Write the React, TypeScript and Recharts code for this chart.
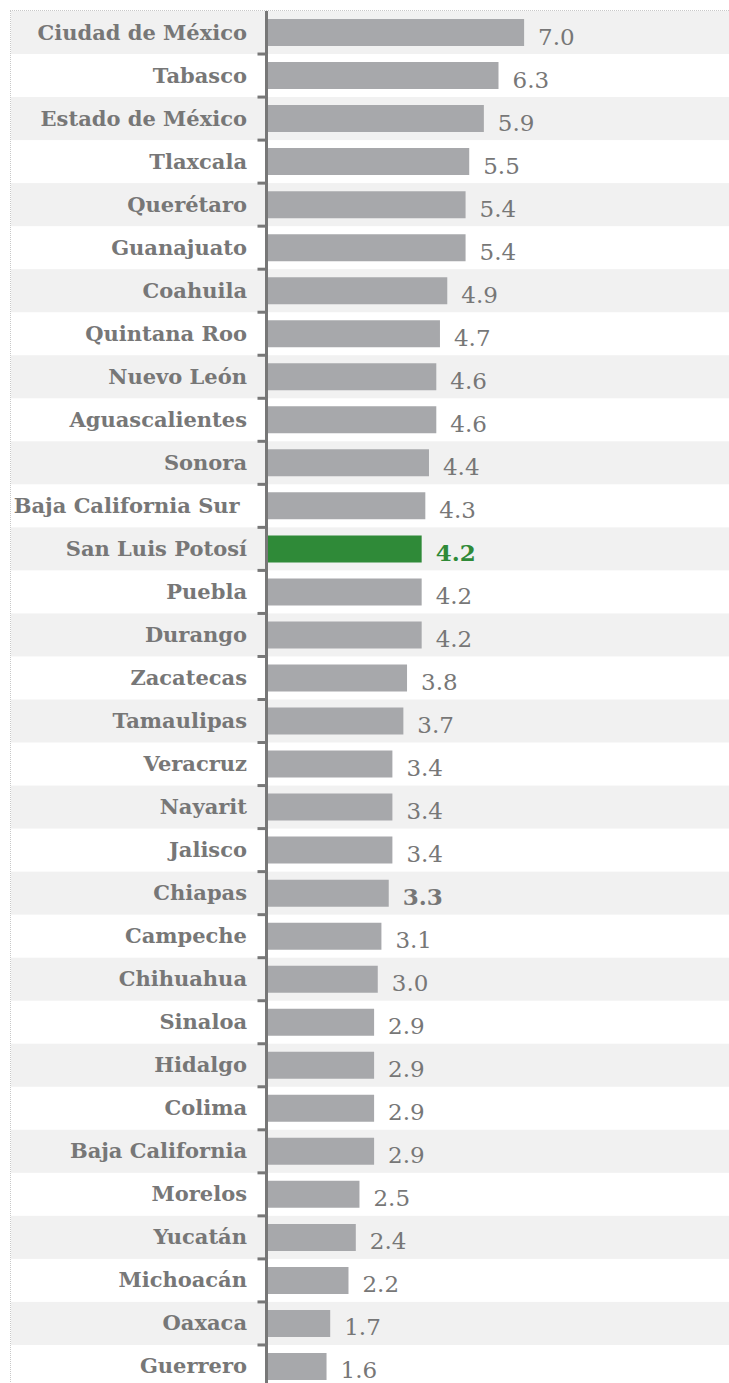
import { BarChart, Bar, XAxis, YAxis, Cell, LabelList } from "recharts";

const states = [
  "Ciudad de México", "Tabasco", "Estado de México", "Tlaxcala", "Querétaro", "Guanajuato",
  "Coahuila", "Quintana Roo", "Nuevo León", "Aguascalientes", "Sonora", "Baja California Sur ",
  "San Luis Potosí", "Puebla", "Durango", "Zacatecas", "Tamaulipas", "Veracruz", "Nayarit",
  "Jalisco", "Chiapas", "Campeche", "Chihuahua", "Sinaloa", "Hidalgo", "Colima",
  "Baja California", "Morelos", "Yucatán", "Michoacán", "Oaxaca", "Guerrero",
];
const values = [
  7.0, 6.3, 5.9, 5.5, 5.4, 5.4, 4.9, 4.7, 4.6, 4.6, 4.4, 4.3, 4.2, 4.2, 4.2, 3.8, 3.7, 3.4,
  3.4, 3.4, 3.3, 3.1, 3.0, 2.9, 2.9, 2.9, 2.9, 2.5, 2.4, 2.2, 1.7, 1.6,
];
const highlight = "San Luis Potosí";
const boldLabels = ["San Luis Potosí", "Chiapas"];

const data = states.map((name, i) => ({ name, value: values[i] }));

const W = 718;
const H = 1377;
const Y_W = 257;
const BAND = H / states.length;
const AXIS = "#777777";
const BAR = "#a7a8ab";
const GREEN = "#2f8a38";
const FONT = "'DejaVu Serif', serif";

// alternating row shading, full band height, reaching under the labels
function Band(props: any) {
  const idx = props.index ?? states.indexOf(props.payload?.name);
  if (idx % 2 !== 0) return null;
  const cy = props.y + props.height / 2;
  return <rect x={props.x - Y_W} y={cy - BAND / 2} width={props.width + Y_W} height={BAND} fill="#f1f1f1" />;
}

// label + bracket-style axis piece for each band
function StateTick(props: any) {
  const { x, y, payload, index } = props;
  const ax = x + 19 - 1.5;
  const top = y - BAND / 2;
  const t = index === 0 ? top - 3.5 : top;
  return (
    <g>
      <text x={x - 2} y={y + 7} textAnchor="end" fill={AXIS} fontFamily={FONT} fontWeight="bold" fontSize={21} style={{ whiteSpace: "pre" }}>
        {payload.value}
      </text>
      <line x1={ax} x2={ax} y1={t - 1.5} y2={top + BAND} stroke={AXIS} strokeWidth={3} />
      <line x1={ax - 9} x2={ax} y1={t} y2={t} stroke={AXIS} strokeWidth={3} />
    </g>
  );
}

function ValueLabel(props: any) {
  const { x, y, width, height, value, index } = props;
  const name = states[index];
  const bold = boldLabels.includes(name);
  return (
    <text
      x={x + width + 14}
      y={y + height / 2 + 12}
      fill={name === highlight ? GREEN : AXIS}
      fontFamily={FONT}
      fontSize={23}
      fontWeight={bold ? "bold" : "normal"}
    >
      {Number(value).toFixed(1)}
    </text>
  );
}

export default function App() {
  return (
    <div style={{ position: "absolute", left: 0, top: 0, width: 729, height: 1383, overflow: "hidden", background: "#fff" }}>
      <div style={{ position: "absolute", left: 10, top: 10, borderTop: "1px dotted #c8c8c8", borderLeft: "1px dotted #c8c8c8" }}>
        <BarChart width={W} height={H} data={data} layout="vertical" margin={{ top: 0, right: 0, bottom: 0, left: 0 }}>
          <XAxis type="number" domain={[0, 12.6]} hide />
          <YAxis
            type="category"
            dataKey="name"
            width={Y_W}
            tickLine={false}
            tickSize={0}
            tickMargin={19}
            axisLine={false}
            tick={<StateTick />}
            interval={0}
          />
          <Bar dataKey="value" barSize={27} background={<Band />} isAnimationActive={false}>
            {data.map((d) => (
              <Cell key={d.name} fill={d.name === highlight ? GREEN : BAR} />
            ))}
            <LabelList dataKey="value" content={<ValueLabel />} />
          </Bar>
        </BarChart>
      </div>
    </div>
  );
}
